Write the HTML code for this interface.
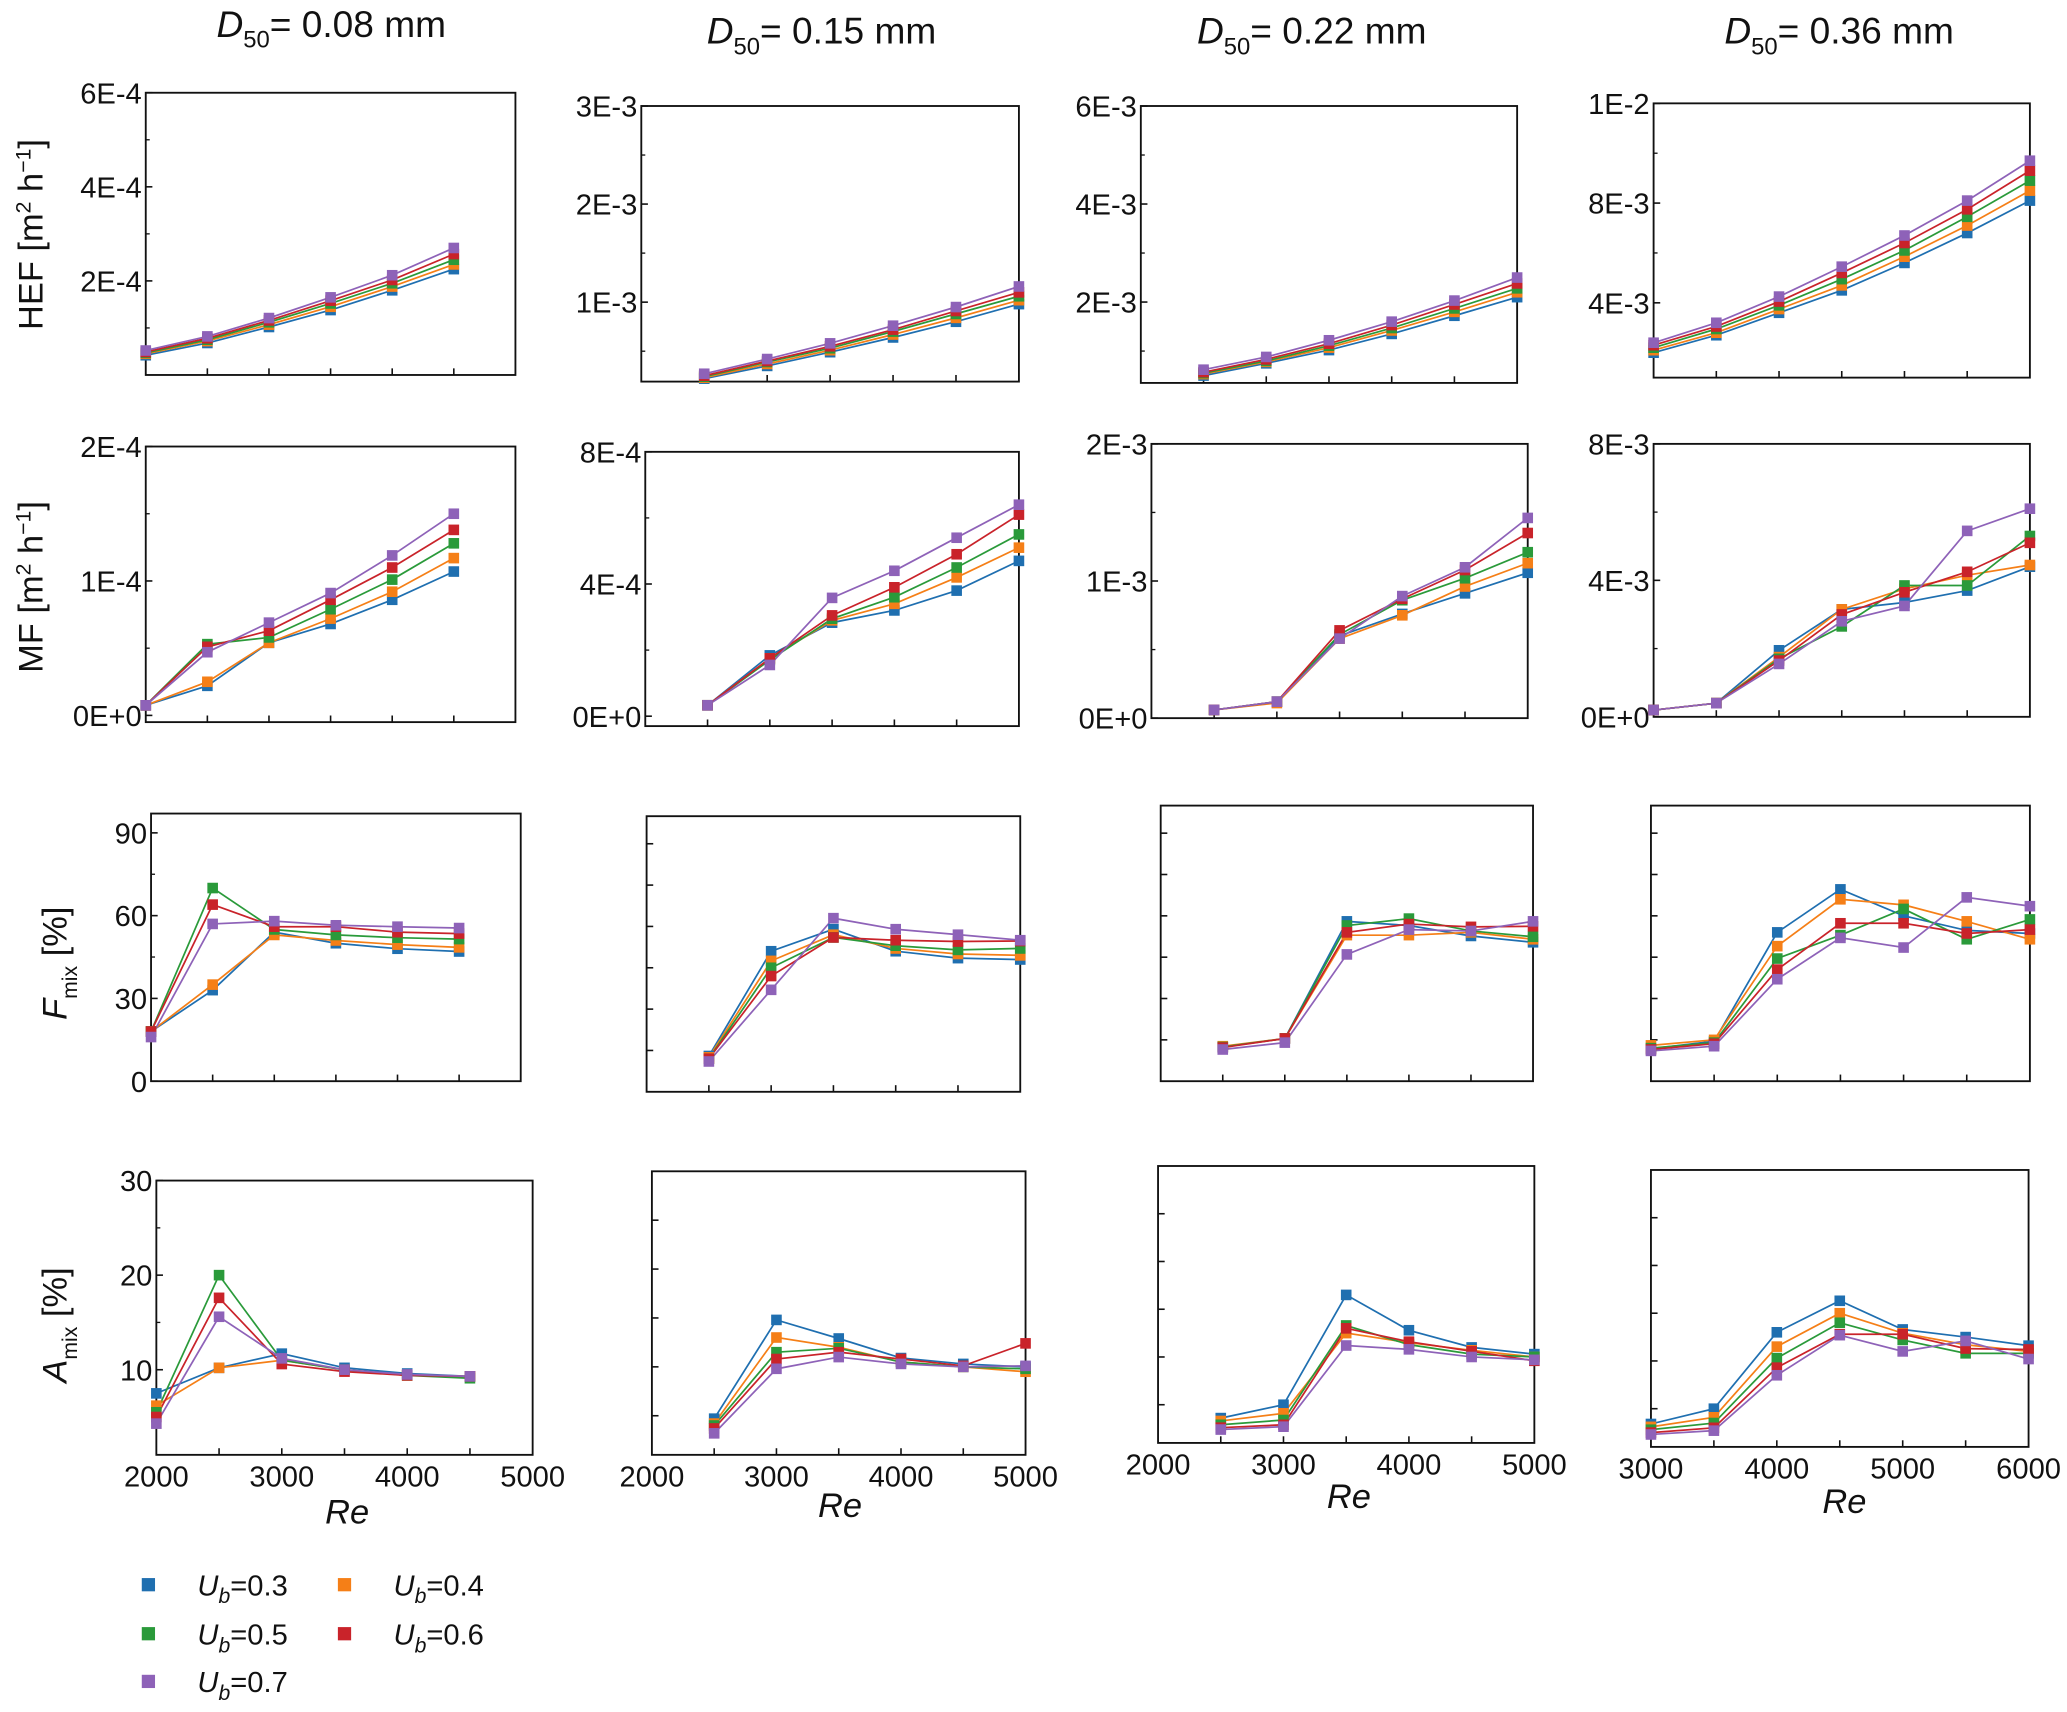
<!DOCTYPE html>
<html><head><meta charset="utf-8"><style>
html,body{margin:0;padding:0;background:#fff;}
svg{display:block;}
text{font-family:"Liberation Sans","DejaVu Sans",sans-serif;fill:#111;}
</style></head>
<body>
<svg id="fig" width="2067" height="1712" viewBox="0 0 1560 1292.08" preserveAspectRatio="none" xmlns="http://www.w3.org/2000/svg"></svg>
<script>
const seriesNames = ["Ub=0.3","Ub=0.4","Ub=0.5","Ub=0.6","Ub=0.7"];
const colors = ["#1f6fb0","#f57f17","#2a9a3a","#c9232a","#8e62b8"];
const reA = [2000,2500,3000,3500,4000,4500];
const reB = [2500,3000,3500,4000,4500,5000];
const reC = [3000,3500,4000,4500,5000,5500,6000];

// HEF
const hef1 = [[4.2e-5,6.8e-5,1.02e-4,1.38e-4,1.80e-4,2.25e-4],[4.5e-5,7.2e-5,1.07e-4,1.45e-4,1.88e-4,2.35e-4],[4.7e-5,7.5e-5,1.12e-4,1.52e-4,1.95e-4,2.45e-4],[4.9e-5,7.8e-5,1.16e-4,1.58e-4,2.02e-4,2.57e-4],[5.2e-5,8.2e-5,1.21e-4,1.65e-4,2.12e-4,2.70e-4]];
const hef2 = [[2.2e-4,3.5e-4,4.9e-4,6.4e-4,8.0e-4,9.8e-4],[2.3e-4,3.7e-4,5.1e-4,6.7e-4,8.4e-4,1.02e-3],[2.4e-4,3.9e-4,5.3e-4,7.0e-4,8.8e-4,1.06e-3],[2.5e-4,4.0e-4,5.5e-4,7.2e-4,9.1e-4,1.10e-3],[2.7e-4,4.2e-4,5.8e-4,7.6e-4,9.5e-4,1.16e-3]];
const hef3 = [[0.50e-3,0.75e-3,1.02e-3,1.35e-3,1.72e-3,2.10e-3],[0.53e-3,0.78e-3,1.07e-3,1.42e-3,1.80e-3,2.20e-3],[0.55e-3,0.80e-3,1.11e-3,1.47e-3,1.87e-3,2.28e-3],[0.57e-3,0.83e-3,1.15e-3,1.53e-3,1.95e-3,2.38e-3],[0.62e-3,0.88e-3,1.22e-3,1.60e-3,2.03e-3,2.50e-3]];
const hef4 = [[2.0e-3,2.7e-3,3.6e-3,4.5e-3,5.6e-3,6.8e-3,8.1e-3],[2.1e-3,2.8e-3,3.75e-3,4.7e-3,5.85e-3,7.1e-3,8.5e-3],[2.2e-3,2.95e-3,3.9e-3,4.95e-3,6.1e-3,7.45e-3,8.9e-3],[2.3e-3,3.05e-3,4.05e-3,5.2e-3,6.4e-3,7.75e-3,9.3e-3],[2.4e-3,3.2e-3,4.25e-3,5.45e-3,6.7e-3,8.1e-3,9.7e-3]];
// MF
const mf1 = [[7.5e-6,2.2e-5,5.4e-5,6.8e-5,8.6e-5,1.07e-4],[7.5e-6,2.5e-5,5.4e-5,7.2e-5,9.2e-5,1.17e-4],[7.5e-6,5.3e-5,5.8e-5,7.9e-5,1.01e-4,1.28e-4],[7.5e-6,5.1e-5,6.3e-5,8.6e-5,1.10e-4,1.38e-4],[7.5e-6,4.7e-5,6.9e-5,9.1e-5,1.19e-4,1.50e-4]];
const mf2 = [[3.3e-5,1.84e-4,2.83e-4,3.2e-4,3.8e-4,4.7e-4],[3.3e-5,1.75e-4,2.9e-4,3.4e-4,4.2e-4,5.1e-4],[3.3e-5,1.7e-4,2.95e-4,3.6e-4,4.5e-4,5.5e-4],[3.3e-5,1.75e-4,3.05e-4,3.9e-4,4.9e-4,6.1e-4],[3.3e-5,1.55e-4,3.58e-4,4.4e-4,5.4e-4,6.4e-4]];
const mf3 = [[0.06e-3,0.12e-3,0.60e-3,0.76e-3,0.91e-3,1.06e-3],[0.06e-3,0.11e-3,0.58e-3,0.75e-3,0.96e-3,1.13e-3],[0.06e-3,0.12e-3,0.61e-3,0.86e-3,1.02e-3,1.21e-3],[0.06e-3,0.12e-3,0.64e-3,0.87e-3,1.08e-3,1.35e-3],[0.06e-3,0.12e-3,0.58e-3,0.89e-3,1.10e-3,1.46e-3]];
const mf4 = [[0.2e-3,0.4e-3,1.95e-3,3.15e-3,3.35e-3,3.7e-3,4.4e-3],[0.2e-3,0.4e-3,1.75e-3,3.15e-3,3.75e-3,4.15e-3,4.45e-3],[0.2e-3,0.4e-3,1.7e-3,2.65e-3,3.85e-3,3.85e-3,5.3e-3],[0.2e-3,0.4e-3,1.65e-3,3.0e-3,3.65e-3,4.25e-3,5.1e-3],[0.2e-3,0.4e-3,1.55e-3,2.8e-3,3.25e-3,5.45e-3,6.1e-3]];
// Fmix
const fm1 = [[18,33,54,50,48,47],[18,35,53,51,49.5,48.5],[18,70,55,53,52,51.5],[18,64,56,56,54,53.5],[16,57,58,56.5,56,55.5]];
const fm2 = [[13,51,59,51,48.5,48],[12.5,47.5,57,52,50,49.5],[12,45,56,53,51.5,52],[12,42,56,55,54.5,54.7],[11,37,63,59,57,55]];
const fm3 = [[12.4,15.5,58,56.5,52.7,50.4],[12.7,15.5,53,53,54,51.5],[12.4,15.5,56.5,59,54.5,52.4],[12.2,15.5,54,57,56,56.2],[11.5,14,46,55,54.5,58]];
const fm4 = [[11.8,14.5,54,69.6,60,54.7,53.6],[13,15,49,66,64,58,51.5],[12,14,44.5,53,62.5,51.5,58.7],[11.5,13.6,40.5,57.3,57.3,53.6,55],[11,12.7,37,52,48.5,66.7,63.5]];
// Amix
const am1 = [[7.5,10.2,11.7,10.2,9.6,9.3],[6.2,10.2,11,10,9.4,9.3],[5.5,20,11,10,9.4,9.1],[5,17.6,10.6,9.8,9.4,9.3],[4.3,15.6,11.2,10,9.5,9.3]];
const am2 = [[4.7,14.8,12.9,10.9,10.3,10],[4.2,13,12,10.5,10,9.5],[4,11.5,11.9,10.5,10,9.8],[3.7,10.8,11.5,10.8,10.1,12.4],[3.2,9.8,11,10.3,10,10.1]];
const am3 = [[3.6,5,16.5,12.8,11,10.3],[3.3,4.1,12.5,11.5,10.7,10],[2.9,3.4,13.3,11.3,10.3,10],[2.6,2.9,13,11.6,10.6,9.6],[2.4,2.7,11.2,10.8,10,9.7]];
const am4 = [[3.4,5,13,16.3,13.3,12.5,11.6],[3.1,4.1,11.5,15,12.9,11.7,11],[2.8,3.5,10.3,14,12.2,10.8,10.8],[2.5,3,9.3,12.8,12.8,11.3,11.2],[2.3,2.7,8.5,12.7,11,12.1,10.2]];

const NS="http://www.w3.org/2000/svg";
const svg=document.getElementById('fig');
function mk(tag,attrs,parent){const e=document.createElementNS(NS,tag);for(const k in attrs)e.setAttribute(k,attrs[k]);(parent||svg).appendChild(e);return e;}
function txt(x,y,s,size,parent,anchor,extra){const t=mk('text',{x:x,y:y,'font-size':size,'text-anchor':anchor||'middle'},parent);t.innerHTML=s;if(extra)for(const k in extra)t.setAttribute(k,extra[k]);return t;}

function panel(name,box,xr,yr,xs,data,yMajor,yLabels,yMinor,xLabels,xLabY){
  const [L,T,R,B]=box;
  const g=mk('g',{});
  
  
  const sx=v=>L+(v-xr[0])/(xr[1]-xr[0])*(R-L);
  const sy=v=>B-(v-yr[0])/(yr[1]-yr[0])*(B-T);
  const fr=mk('rect',{x:L,y:T,width:R-L,height:B-T,fill:'none',stroke:'#111','stroke-width':1.4},g);
  
  
  for(let v=xr[0]+500;v<xr[1];v+=500){mk('line',{x1:sx(v),x2:sx(v),y1:B,y2:B-5,stroke:'#111','stroke-width':1.2},g);}
  yMajor.forEach((v,i)=>{mk('line',{x1:L,x2:L+5,y1:sy(v),y2:sy(v),stroke:'#111','stroke-width':1.2},g);
    if(yLabels){const t=txt(L-3,sy(v)+8,yLabels[i],22,g,'end');}});
  yMinor.forEach(v=>{mk('line',{x1:L,x2:L+3,y1:sy(v),y2:sy(v),stroke:'#111','stroke-width':1},g);});
  if(xLabels){xLabels.forEach(v=>{const t=txt(sx(v),xLabY,String(v),22,g);});}
  data.forEach((ser,si)=>{
    const pts=ser.map((v,i)=>sx(xs[i]).toFixed(1)+','+sy(v).toFixed(1)).join(' ');
    const pl=mk('polyline',{points:pts,fill:'none',stroke:colors[si],'stroke-width':1.3},g);
    
    
  });
  data.forEach((ser,si)=>{
    ser.forEach((v,i)=>{
      const r=mk('rect',{x:sx(xs[i])-4,y:sy(v)-4,width:8,height:8,fill:colors[si]},g);
      
      
    });
  });
}

panel('hef-d008',[110,70,389,283],[2000,5000],[0,6e-4],reA,hef1,[2e-4,4e-4,6e-4],['2E-4','4E-4','6E-4'],[1e-4,3e-4,5e-4]);
panel('hef-d015',[484,80,769,288],[2000,5000],[1.9e-4,3e-3],reB,hef2,[1e-3,2e-3,3e-3],['1E-3','2E-3','3E-3'],[5e-4,1.5e-3,2.5e-3]);
panel('hef-d022',[861,80,1145,289],[2000,5000],[3.5e-4,6e-3],reB,hef3,[2e-3,4e-3,6e-3],['2E-3','4E-3','6E-3'],[1e-3,3e-3,5e-3]);
panel('hef-d036',[1248,78,1532,285],[3000,6000],[1e-3,1.2e-2],reC,hef4,[4e-3,8e-3,1.2e-2],['4E-3','8E-3','1E-2'],[2e-3,6e-3,1e-2]);
panel('mf-d008',[110,337,389,545],[2000,5000],[-5e-6,2e-4],reA,mf1,[0,1e-4,2e-4],['0E+0','1E-4','2E-4'],[5e-5,1.5e-4]);
panel('mf-d015',[487,341,769,548],[2000,5000],[-3e-5,8e-4],reB,mf2,[0,4e-4,8e-4],['0E+0','4E-4','8E-4'],[2e-4,6e-4]);
panel('mf-d022',[869,335,1153,542],[2000,5000],[0,2e-3],reB,mf3,[0,1e-3,2e-3],['0E+0','1E-3','2E-3'],[5e-4,1.5e-3]);
panel('mf-d036',[1248,335,1532,541],[3000,6000],[0,8e-3],reC,mf4,[0,4e-3,8e-3],['0E+0','4E-3','8E-3'],[2e-3,6e-3]);
panel('fmix-d008',[114,614,393,816],[2000,5000],[0,97],reA,fm1,[0,30,60,90],['0','30','60','90'],[15,45,75]);
panel('fmix-d015',[488,616,770,824],[2000,5000],[0,100],reB,fm2,[15,30,45,60,75,90],null,[]);
panel('fmix-d022',[876,608,1157,816],[2000,5000],[0,100],reB,fm3,[15,30,45,60,75,90],null,[]);
panel('fmix-d036',[1246,608,1532,816],[3000,6000],[0,100],reC,fm4,[15,30,45,60,75,90],null,[]);
panel('amix-d008',[118,891,402,1098],[2000,5000],[1,30],reA,am1,[10,20,30],['10','20','30'],[5,15,25],[2000,3000,4000,5000],1122);
panel('amix-d015',[492,884,774,1098],[2000,5000],[1,30],reB,am2,[5,10,15,20,25],null,[],[2000,3000,4000,5000],1122);
panel('amix-d022',[874,880,1158,1089],[2000,5000],[1,30],reB,am3,[5,10,15,20,25],null,[],[2000,3000,4000,5000],1113);
panel('amix-d036',[1246,883,1531,1092],[3000,6000],[1,30],reC,am4,[5,10,15,20,25],null,[],[3000,4000,5000,6000],1116);

[[250,28,'0.08'],[620,33,'0.15'],[990,33,'0.22'],[1388,33,'0.36']].forEach(c=>{
  const t=txt(c[0],c[1],'<tspan font-style="italic">D</tspan><tspan font-size="18" dy="8">50</tspan><tspan dy="-8">= '+c[2]+' mm</tspan>',28);
  
  
});
let yt;
yt=txt(0,0,'HEF [m<tspan font-size="16" dy="-9">2</tspan><tspan dy="9"> h</tspan><tspan font-size="16" dy="-9">−1</tspan><tspan dy="9">]</tspan>',26,svg,'middle',{transform:'translate(32,177) rotate(-90)'});


yt=txt(0,0,'MF [m<tspan font-size="16" dy="-9">2</tspan><tspan dy="9"> h</tspan><tspan font-size="16" dy="-9">−1</tspan><tspan dy="9">]</tspan>',26,svg,'middle',{transform:'translate(32,443) rotate(-90)'});


yt=txt(0,0,'<tspan font-style="italic">F</tspan><tspan font-size="16" dy="8">mix</tspan><tspan dy="-8"> [%]</tspan>',26,svg,'middle',{transform:'translate(50,727) rotate(-90)'});


yt=txt(0,0,'<tspan font-style="italic">A</tspan><tspan font-size="16" dy="8">mix</tspan><tspan dy="-8"> [%]</tspan>',26,svg,'middle',{transform:'translate(50,1000) rotate(-90)'});


[[262,1150],[634,1145],[1018,1138],[1392,1142]].forEach(p=>{
  const t=txt(p[0],p[1],'Re',26,svg,'middle',{'font-style':'italic'});
  
  
});
const legPos=[[112,1196],[260,1196],[112,1233],[260,1233],[112,1269]];
const legVals=['0.3','0.4','0.5','0.6','0.7'];
legPos.forEach((p,i)=>{
  const g=mk('g',{});
  
  
  mk('rect',{x:p[0]-5,y:p[1]-5,width:10,height:10,fill:colors[i]},g);
  txt(p[0]+37,p[1]+8,'<tspan font-style="italic">U</tspan><tspan font-style="italic" font-size="16" dy="6">b</tspan><tspan dy="-6">='+legVals[i]+'</tspan>',22,g,'start');
});
</script>
</body></html>
